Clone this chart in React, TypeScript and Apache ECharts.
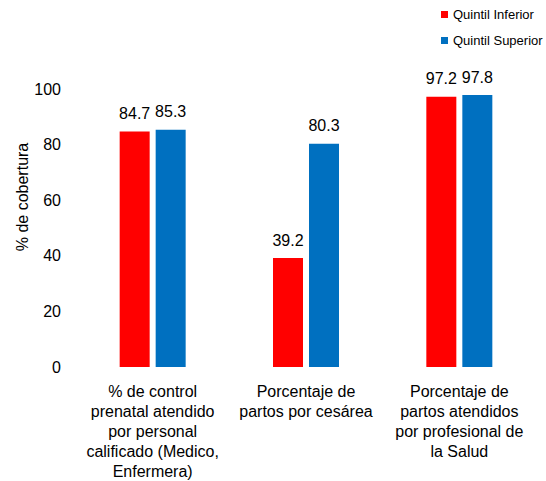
import React, { useEffect, useRef } from "react";
import * as echarts from "echarts";

const categories = [
  "% de control\nprenatal atendido\npor personal\ncalificado (Medico,\nEnfermera)",
  "Porcentaje de\npartos por cesárea",
  "Porcentaje de\npartos atendidos\npor profesional de\nla Salud",
];
const seriesNames = ["Quintil Inferior", "Quintil Superior"];
const inferior = [84.7, 39.2, 97.2];
const superior = [85.3, 80.3, 97.8];
const yTicks = { min: 0, max: 100, interval: 20 };

const FONT = "Liberation Sans, Arial, sans-serif";

export default function App() {
  const ref = useRef<HTMLDivElement>(null);
  useEffect(() => {
    document.body.style.margin = "0";
    if (!ref.current) return;
    const chart = echarts.init(ref.current, null, { renderer: "svg" });
    const labelStyle = {
      show: true,
      position: "top" as const,
      distance: 10,
      color: "#000",
      fontSize: 16,
      fontFamily: FONT,
      formatter: (p: any) => p.value.toFixed(1),
    };
    chart.setOption({
      animation: false,
      textStyle: { fontFamily: FONT },
      legend: {
        orient: "vertical",
        left: 436,
        top: 3,
        itemWidth: 7,
        itemHeight: 7,
        itemGap: 13,
        icon: "rect",
        data: seriesNames,
        textStyle: { fontSize: 13, color: "#000", fontFamily: FONT },
      },
      graphic: [
        {
          type: "text",
          x: 22,
          y: 197,
          rotation: Math.PI / 2,
          style: {
            text: "% de cobertura",
            fontSize: 16,
            fontFamily: FONT,
            fill: "#000",
            align: "center",
            verticalAlign: "middle",
          },
        },
      ],
      grid: { left: 76, right: 10, top: 89, bottom: 113 },
      xAxis: {
        type: "category",
        data: categories,
        axisLine: { show: false },
        axisTick: { show: false },
        axisLabel: {
          color: "#000",
          fontSize: 16,
          fontFamily: FONT,
          lineHeight: 20,
          margin: 14,
          interval: 0,
        },
      },
      yAxis: {
        type: "value",
        min: yTicks.min,
        max: yTicks.max,
        interval: yTicks.interval,
        splitLine: { show: false },
        axisLine: { show: false },
        axisTick: { show: false },
        axisLabel: { color: "#000", fontSize: 16, fontFamily: FONT, margin: 15 },
      },
      series: [
        {
          name: seriesNames[0],
          type: "bar",
          data: inferior,
          barWidth: 30,
          barGap: "20%",
          itemStyle: { color: "#FF0000" },
          label: labelStyle,
        },
        {
          name: seriesNames[1],
          type: "bar",
          data: superior,
          barWidth: 30,
          barGap: "20%",
          itemStyle: { color: "#0070C0" },
          label: labelStyle,
        },
      ],
    });
    return () => chart.dispose();
  }, []);
  return <div ref={ref} style={{ width: 546, height: 481 }} />;
}
